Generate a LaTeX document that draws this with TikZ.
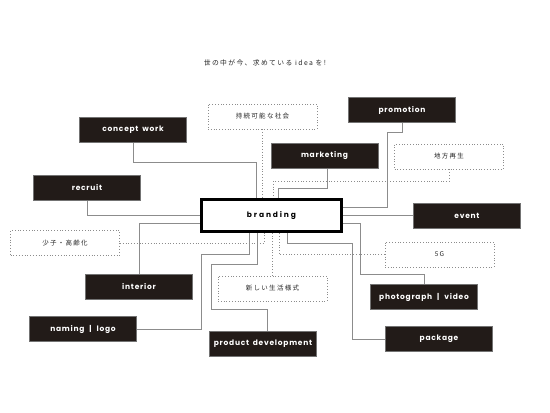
\documentclass[tikz,border=0pt]{standalone}
\usepackage{fontspec}
\setmainfont{Poppins}
\newfontfamily\tagfont[LetterSpace=10, WordSpace=1.6]{Poppins}
\newfontfamily\hubfont[LetterSpace=25]{Poppins}
\newfontfamily\cjk[LetterSpace=20]{Noto Sans CJK JP}
\usetikzlibrary{backgrounds}
\definecolor{ink}{HTML}{221B18}
\definecolor{linegray}{HTML}{8C8C8C}

\begin{document}
\begin{tikzpicture}[
  x=1pt, y=-1pt,
  tag/.style={draw=black!55, fill=ink, text=white, inner sep=0pt,
              font=\tagfont\bfseries\fontsize{7.5}{9}\selectfont,
              minimum width=107pt, minimum height=25pt},
  issue/.style={draw=linegray, dotted, line width=0.8pt, text=black!85, inner sep=0pt,
                font=\cjk\fontsize{6.5}{8}\selectfont,
                minimum width=109pt, minimum height=25pt},
  hub/.style={draw=black, line width=2.6pt, fill=white, inner sep=0pt,
              font=\hubfont\bfseries\fontsize{7.5}{9}\selectfont,
              minimum width=140pt, minimum height=32pt},
  link/.style={draw=linegray, line width=0.8pt},
  dlink/.style={link, dotted},
]
  \useasboundingbox (0,0) rectangle (550,413);

  \node[font=\cjk\fontsize{6.8}{8}\selectfont, text=black!85] (title) at (265,63)
    {世の中が今、求めている idea を!};

  % centre
  \node[hub] (brand) at (271.5,215.5) {branding};

  % themes
  \node[tag] (concept) at (133,129.5) {concept work};
  \node[tag] (recruit) at (87,188) {recruit};
  \node[tag] (promo) at (402,110) {promotion};
  \node[tag] (market) at (324.5,156) {marketing};
  \node[tag] (event) at (467,215.5) {event};
  \node[tag] (interior) at (139,287) {interior};
  \node[tag] (photo) at (424,297) {photograph \,|\, video};
  \node[tag] (naming) at (83,329) {naming \,|\, logo};
  \node[tag] (product) at (263,343.5) {product development};
  \node[tag] (package) at (439,339) {package};

  % keywords
  \node[issue] (sustain) at (262.5,116.5) {持続可能な社会};
  \node[issue] (local) at (449,156.5) {地方再生};
  \node[issue] (aging) at (65,243) {少子・高齢化};
  \node[issue] (fiveg) at (439.5,254.5) {5G};
  \node[issue] (lifestyle) at (272.5,288.5) {新しい生活様式};

  \begin{scope}[on background layer]
    \fill[white] (0,0) rectangle (550,413);
    \draw[link] (concept.south) -- ++(0,20) -| ([xshift=-15.5pt]brand.north);
    \draw[link] (recruit.south) |- (brand.west);
    \draw[link] (interior.north) |- ([yshift=-7.5pt]brand.west);
    \draw[link] (naming.east) -- ++(65,0) -- ++(0,-75) -| ([xshift=-22.5pt]brand.south);
    \draw[link] ([xshift=4pt]product.north) -- ++(0,-21) -| ++(-56,-45) -| ([xshift=-14.5pt]brand.south);
    \draw[link] ([xshift=2.5pt]market.south) -- ++(0,20) -| ([xshift=6.5pt]brand.north);
    \draw[link] (promo.south) -- ++(0,10) -- ++(-15,0) |- ([yshift=8.5pt]brand.east);
    \draw[link] (brand.east) -- (event.west);
    \draw[link] ([yshift=-7.5pt]brand.east) -- ++(18,0) -- ++(0,51) -| (photo.north);
    \draw[link] ([xshift=15.5pt]brand.south) -- ++(0,11) -- ++(65,0) |- (package.west);

    \draw[dlink] (sustain.south) -- (sustain.south |- brand.north);
    \draw[dlink] (local.south) -- ++(0,12) -| ([xshift=1.5pt]brand.north);
    \draw[dlink] (aging.east) -| ([xshift=-7.5pt]brand.south);
    \draw[dlink] (lifestyle.north) -- (lifestyle.north |- brand.south);
    \draw[dlink] (fiveg.west) -| ([xshift=7.5pt]brand.south);
  \end{scope}
\end{tikzpicture}
\end{document}
